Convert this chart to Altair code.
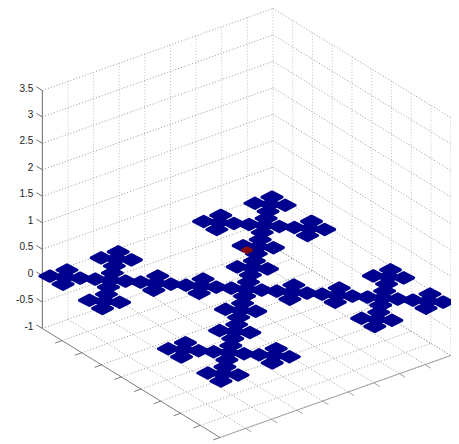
import altair as alt
import pandas as pd

# data-space description of the 3-D box
x_ticks = list(range(0, 10))
y_ticks = list(range(0, 10))
z_ticks = [-1, -0.5, 0, 0.5, 1, 1.5, 2, 2.5, 3, 3.5]
z_labels = ["-1", "-0.5", "0", "0.5", "1", "1.5", "2", "2.5", "3", "3.5"]
fractal_levels = 3
fractal_z = 0
red_cell = (6.9, 17.75)
blue = "#00008f"
red = "#870a0a"

# orthographic view of the box, screen units per data unit
O = (42.5, 328.5)
UX = (178.5 / 9, 109 / 9)
UY = (231.7 / 9, -82 / 9)
UZ = 238 / 4.5


def proj(x, y, z):
    return (O[0] + x * UX[0] + y * UY[0], O[1] + x * UX[1] + y * UY[1] - (z + 1) * UZ)


def seg(a, b):
    pa, pb = proj(*a), proj(*b)
    return {"sx": pa[0], "sy": pa[1], "sx2": pb[0], "sy2": pb[1]}


xmax, ymax, zmin, zmax = x_ticks[-1], y_ticks[-1], z_ticks[0], z_ticks[-1]

vertical = [seg((0, y, zmin), (0, y, zmax)) for y in y_ticks] + [
    seg((x, ymax, zmin), (x, ymax, zmax)) for x in x_ticks[1:]
]
slanted = (
    [seg((x, 0, zmin), (x, ymax, zmin)) for x in x_ticks[1:]]
    + [seg((0, y, zmin), (xmax, y, zmin)) for y in y_ticks[1:]]
    + [seg((0, 0, z), (0, ymax, z)) for z in z_ticks]
    + [seg((0, ymax, z), (xmax, ymax, z)) for z in z_ticks]
)
z_axis = [seg((0, 0, zmin), (0, 0, zmax))] + [seg((0, 0, z), (-0.3, 0, z)) for z in z_ticks]
x_axis = [seg((0, 0, zmin), (xmax, 0, zmin))] + [seg((x, 0, zmin), (x, -0.27, zmin)) for x in x_ticks[1:]]
y_axis = [seg((xmax, 0, zmin), (xmax, ymax, zmin))] + [
    seg((xmax, y, zmin), (xmax + 0.3, y, zmin)) for y in y_ticks[1:]
]


def in_fractal(i, j):
    for _ in range(fractal_levels):
        a, b = i % 3, j % 3
        if not ((a != 1 and b != 1) or (a == 1 and b == 1)):
            return False
        i, j = i // 3, j // 3
    return True


n = 3 ** fractal_levels
cell = xmax / n
cells = []
for i in range(n):
    for j in range(n):
        if in_fractal(i, j):
            p = proj((i + 0.5) * cell, (j + 0.5) * cell, fractal_z)
            cells.append({"sx": p[0], "sy": p[1]})
rp = proj((red_cell[0] + 0.5) * cell, (red_cell[1] + 0.5) * cell, fractal_z)
red_df = pd.DataFrame([{"sx": rp[0], "sy": rp[1]}])

labels = []
for z, t in zip(z_ticks, z_labels):
    p = proj(0, 0, z)
    labels.append({"sx": p[0], "sy": p[1], "t": t})

sx_scale = alt.Scale(domain=[8, 453], range=[0, 443], nice=False, zero=False)
sy_scale = alt.Scale(domain=[441, 8], nice=False, zero=False)
X = alt.X("sx:Q", scale=sx_scale, axis=None)
Y = alt.Y("sy:Q", scale=sy_scale, axis=None)


def rules(rows, **kw):
    return (
        alt.Chart(pd.DataFrame(rows))
        .mark_rule(**kw)
        .encode(x=X, y=Y, x2="sx2:Q", y2="sy2:Q")
    )


RHOMB = "M-1,0 L0,-0.52 L1,0 L0,0.52 Z"

layers = [
    rules(vertical, color="#c0c0c0", strokeWidth=1, strokeDash=[1, 2]),
    rules(slanted, color="#9a9a9a", strokeWidth=1, strokeDash=[1, 2]),
    rules(z_axis, color="#6e6e6e", strokeWidth=1),
    rules(x_axis, color="#7c7c7c", strokeWidth=1),
    rules(y_axis, color="#a6a6a6", strokeWidth=1),
    alt.Chart(pd.DataFrame(cells))
    .mark_point(shape=RHOMB, filled=True, size=400, color=blue, opacity=1, stroke=blue, strokeWidth=3, strokeJoin="round")
    .encode(x=X, y=Y),
    alt.Chart(red_df)
    .mark_point(shape=RHOMB, filled=True, size=80, color=red, opacity=1, stroke=red, strokeWidth=3, strokeJoin="round")
    .encode(x=X, y=Y),
    alt.Chart(pd.DataFrame(labels))
    .mark_text(align="right", baseline="middle", dx=-9, dy=-2, font="Liberation Sans", fontSize=10, color="#222222")
    .encode(x=X, y=Y, text="t:N"),
]

chart = (
    alt.layer(*layers)
    .properties(width=443, height=433, padding=0, autosize=alt.AutoSizeParams(type="none"))
    .configure_view(stroke=None)
)
chart.save("out.html", embed_options={"renderer": "svg", "actions": False})
